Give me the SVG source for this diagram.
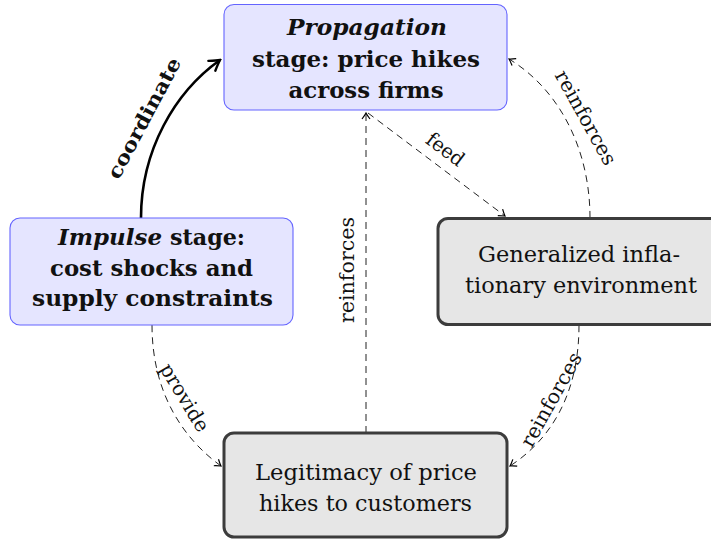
<svg xmlns="http://www.w3.org/2000/svg" width="711" height="540" viewBox="0 0 711 540">
<defs>
<style>
.blue{fill:#e5e5ff;stroke:#6464ff;stroke-width:1.1}
.gray{fill:#e6e6e6;stroke:#3c3c3c;stroke-width:3}
text{font-family:'DejaVu Serif','Liberation Serif',serif;fill:#111;text-anchor:middle}
.t{font-size:22px}
.b{font-weight:bold}
.i{font-style:italic}
.lbl{font-size:20px}
.dash{fill:none;stroke:#222;stroke-width:1;stroke-dasharray:7,5}
.solid{fill:none;stroke:#000;stroke-width:2.6}
</style>
<marker id="ah" viewBox="-8 -6 10 12" markerWidth="10" markerHeight="12" refX="0" refY="0" orient="auto" markerUnits="userSpaceOnUse">
<path d="M-6,-4 Q-2,-1 0,0 Q-2,1 -6,4" fill="none" stroke="#000" stroke-width="1.2"/>
</marker>
<marker id="ahb" viewBox="-12 -8 14 16" markerWidth="14" markerHeight="16" refX="0" refY="0" orient="auto" markerUnits="userSpaceOnUse">
<path d="M-10,-6 Q-3,-1.5 0,0 Q-3,1.5 -10,6" fill="none" stroke="#000" stroke-width="2.4" stroke-linecap="round"/>
</marker>
</defs>
<rect width="711" height="540" fill="#fff"/>

<g id="connectors">
<path class="solid" d="M141,218 C141,150 175,92 220,60" marker-end="url(#ahb)"/>
<path class="dash" d="M368,113 L505,216" marker-end="url(#ah)"/>
<path class="dash" d="M366,433 L366,113" marker-end="url(#ah)"/>
<path class="dash" d="M590,218 C590,150 560,90 509,59" marker-end="url(#ah)"/>
<path class="dash" d="M152,325 C152,395 185,440 221,466" marker-end="url(#ah)"/>
<path class="dash" d="M579,325 C579,395 550,440 510,466" marker-end="url(#ah)"/>
<text class="lbl b" transform="translate(144,118) rotate(-62)" y="7" textLength="134" lengthAdjust="spacingAndGlyphs">coordinate</text>
<text class="lbl" transform="translate(445,150) rotate(37)" y="6" textLength="42" lengthAdjust="spacingAndGlyphs">feed</text>
<text class="lbl" transform="translate(348,270) rotate(-90)" y="6" textLength="106" lengthAdjust="spacingAndGlyphs">reinforces</text>
<text class="lbl" transform="translate(585,118) rotate(61)" y="6" textLength="105" lengthAdjust="spacingAndGlyphs">reinforces</text>
<text class="lbl" transform="translate(184,398) rotate(59)" y="6" textLength="76" lengthAdjust="spacingAndGlyphs">provide</text>
<text class="lbl" transform="translate(552,400) rotate(-61)" y="6" textLength="105" lengthAdjust="spacingAndGlyphs">reinforces</text>
</g>

<g id="propagation">
<rect class="blue" x="224" y="4.5" width="283" height="105.5" rx="10"/>
<text class="t b i" x="367" y="35" textLength="160" lengthAdjust="spacingAndGlyphs">Propagation</text>
<text class="t b" x="366" y="67" textLength="228" lengthAdjust="spacingAndGlyphs">stage: price hikes</text>
<text class="t b" x="366" y="98" textLength="155" lengthAdjust="spacingAndGlyphs">across firms</text>
</g>

<g id="impulse">
<rect class="blue" x="10" y="218" width="283" height="107" rx="10"/>
<text class="t b i" x="110" y="245" textLength="104" lengthAdjust="spacingAndGlyphs">Impulse</text>
<text class="t b" x="207.5" y="245" textLength="75" lengthAdjust="spacingAndGlyphs">stage:</text>
<text class="t b" x="151.5" y="276" textLength="203" lengthAdjust="spacingAndGlyphs">cost shocks and</text>
<text class="t b" x="152.5" y="306" textLength="241" lengthAdjust="spacingAndGlyphs">supply constraints</text>
</g>

<g id="generalized">
<rect class="gray" x="438" y="218.5" width="290" height="106" rx="10"/>
<text class="t" x="579" y="262" textLength="202" lengthAdjust="spacingAndGlyphs">Generalized infla-</text>
<text class="t" x="581" y="293" textLength="232" lengthAdjust="spacingAndGlyphs">tionary environment</text>
</g>

<g id="legitimacy">
<rect class="gray" x="224" y="433" width="283" height="104" rx="10"/>
<text class="t" x="366" y="480" textLength="222" lengthAdjust="spacingAndGlyphs">Legitimacy of price</text>
<text class="t" x="365.5" y="511" textLength="213" lengthAdjust="spacingAndGlyphs">hikes to customers</text>
</g>
</svg>
